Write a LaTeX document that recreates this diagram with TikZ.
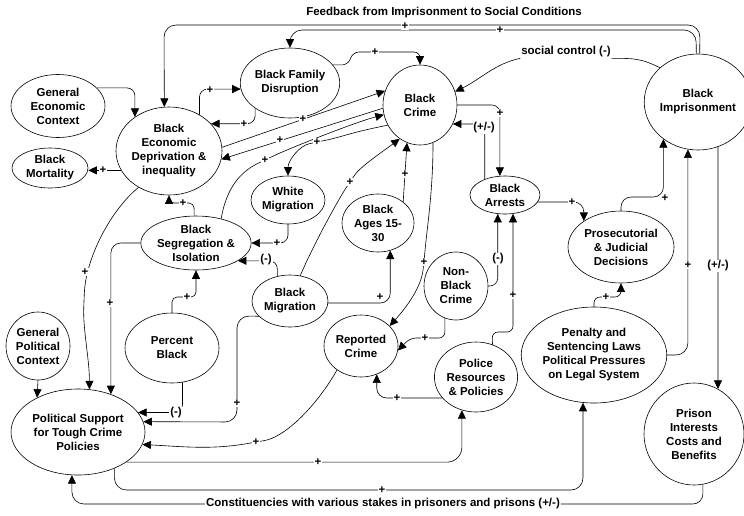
\documentclass[tikz,border=0pt]{standalone}
\usepackage{fontspec}
\setmainfont{Liberation Sans}
\usetikzlibrary{shapes.geometric,arrows.meta}
\begin{document}
\begin{tikzpicture}[x=1pt,y=-1pt,
  every node/.style={font=\fontsize{11.5}{14}\selectfont\bfseries, align=center},
  ell/.style={ellipse, draw, line width=0.6pt, inner sep=0pt},
  sz/.style 2 args={minimum width=#1pt, minimum height=#2pt},
  conn/.style={line width=0.6pt, rounded corners=8pt},
  arw/.style={conn, -{Triangle[length=8.5pt,width=8pt]}},
  lbl/.style={fill=white, inner sep=0.8pt},
]
\useasboundingbox[fill=white] (0,0) rectangle (744,515);

% nodes
\node[ell, sz={94}{63}] (gec) at (58,106) {General\\Economic\\Context};
\node[ell, sz={106}{88}] (bed) at (169,151) {Black\\Economic\\Deprivation \&\\inequality};
\node[ell, sz={76}{40}] (bmort) at (50,168) {Black\\Mortality};
\node[ell, sz={96}{70}] (bfd) at (290,83) {Black Family\\Disruption};
\node[ell, sz={74}{80}] (bc) at (420,105) {Black\\Crime};
\node[ell, sz={106}{96}] (bi) at (698,102) {Black\\Imprisonment};
\node[ell, sz={74}{48}] (wm) at (288,200) {White\\Migration};
\node[ell, sz={106}{54}] (seg) at (196,243) {Black\\Segregation \&\\Isolation};
\node[ell, sz={72}{58}] (ages) at (378,223) {Black\\Ages 15-\\30};
\node[ell, sz={70}{38}] (barr) at (505,195) {Black\\Arrests};
\node[ell, sz={106}{72}] (pros) at (621,247) {Prosecutorial\\\& Judicial\\Decisions};
\node[ell, sz={76}{52}] (bmig) at (290,301) {Black\\Migration};
\node[ell, sz={64}{68}] (nbc) at (456,286) {Non-\\Black\\Crime};
\node[ell, sz={94}{70}] (pb) at (172,348) {Percent\\Black};
\node[ell, sz={64}{68}] (gpc) at (38,346) {General\\Political\\Context};
\node[ell, sz={74}{62}] (rc) at (361,346) {Reported\\Crime};
\node[ell, sz={82}{70}] (pol) at (476,377) {Police\\Resources\\\& Policies};
\node[ell, sz={138}{96}] (pen) at (594,355) {Penalty and\\Sentencing Laws\\Political Pressures\\on Legal System};
\node[ell, sz={100}{102}] (pi) at (694,434) {Prison\\Interests\\Costs and\\Benefits};
\node[ell, sz={134}{86}] (ps) at (78,432) {Political Support\\for Tough Crime\\Policies};

\node (fb) at (444,13) {Feedback from Imprisonment to Social Conditions};
\node[lbl] (sc) at (566,52) {social control (-)};
\node[lbl] (cons) at (383,504) {Constituencies with various stakes in prisoners and prisons (+/-)};

% connectors
\draw[arw, rounded corners=12pt] (bi.88) -- (700,25) -- (164,25) -- (bed.96);
\draw[arw, rounded corners=12pt] (bi.92) -- (696,30) -- (290,30) -- (bfd.north);
\draw[arw, rounded corners=6pt] (bfd.23) -- (348,65) -- (353,52) -| (bc.north);
\draw[arw] (gec.25) -| (bed.135);
\draw[arw] (bed.50) |- (bfd.187);
\draw[arw] (bfd.216) |- (bed.33);
\draw[arw] (bed.202) -- (bed.202 -| bmort.east);
\draw[arw] (bed.4) -- (bc.158);
\draw[arw] (bc.185) -- (bed.351);
\draw[arw] (seg.44) .. controls +(5,-30) and +(-25,12) .. (265,160) .. controls +(25,-12) and +(-30,8) .. (bc.195);
\draw[arw] (bc.212) .. controls +(-40,8) and +(25,-5) .. (317,142) .. controls +(-18,4) and +(0,-15) .. (wm.north);
\draw[arw] (bmig.68) .. controls +(15,-35) and +(-10,15) .. (350,182) .. controls +(10,-15) and +(-20,15) .. (bc.239);
\draw[arw] (ages.40) -- (bc.251);
\draw[arw] (bc.289) .. controls +(0,50) and +(3,-35) .. (424,262) .. controls +(-3,25) and +(18,-20) .. (rc.35);
\draw[arw] (bc.east) -| (barr.105);
\draw[arw] (barr.142) |- (bc.330);
\draw[conn] (bi.138) .. controls +(-20,-10) and +(20,0) .. (sc.south east);
\draw[arw] (sc.south west) .. controls +(-25,5) and +(25,-12) .. (bc.21);
\draw[arw, rounded corners=5pt] (seg.94) -- (194,203) -| (bed.south);
\draw[arw] (wm.south) |- (seg.east);
\draw[arw] (bmig.117) |- (seg.337);
\draw[arw, rounded corners=5pt] (pb.north) -- (172,297) -| (seg.south);
\draw[arw, rounded corners=10pt] (bmig.-3) -| (ages.294);
\draw[arw, rounded corners=12pt] (bmig.206) -- (237,316) -- (237,422) -- (ps.9);
\draw[arw] (pb.287) |- (ps.18);
\draw[arw] (bed.230) .. controls +(-30,25) and +(2,-40) .. (84,300) .. controls +(-1,30) and +(0,-30) .. (ps.75);
\draw[arw, rounded corners=10pt] (seg.west) -| (ps.49);
\draw[arw] (gpc.south) -- (ps.140);
\draw[arw] (rc.225) .. controls +(-20,35) and +(30,-5) .. (256,442) .. controls +(-45,8) and +(40,2) .. (ps.349);
\draw[arw, rounded corners=15pt] (ps.328) -| (pol.247);
\draw[arw, rounded corners=12pt] (ps.315) |- (400,490) -| (pen.257);
\draw[conn, rounded corners=10pt] (pi.280) |- (cons.east);
\draw[arw, rounded corners=12pt] (cons.west) -| (ps.262);
\draw[arw, rounded corners=10pt] (pol.212) -| (rc.299);
\draw[arw, rounded corners=6pt] (nbc.251) |- (410,338) -- (rc.353);
\draw[arw, rounded corners=8pt] (nbc.east) -| (barr.249);
\draw[arw, rounded corners=6pt] (pol.63) -- (492,332) -| (barr.293);
\draw[arw, rounded corners=10pt] (barr.348) -| (pros.145);
\draw[arw, rounded corners=10pt] (pros.north) -- (621,197) -| (bi.227);
\draw[arw, rounded corners=6pt] (pen.north) -- (594,297) -| (pros.south);
\draw[arw, rounded corners=12pt] (pen.east) -| (bi.258);
\draw[arw] (bi.294) -- (pi.62);

% labels
\node[lbl] (l1) at (405,26) {+};
\node[lbl] (l2) at (500,30) {+};
\node[lbl] (l3) at (375,52) {+};
\node[lbl] (l4) at (210,90) {+};
\node[lbl] (l5) at (244,124) {+};
\node[lbl] (l6) at (103,170) {+};
\node[lbl] (l7) at (303,119) {+};
\node[lbl] (l8) at (280,140) {+};
\node[lbl] (l9) at (265,160) {+};
\node[lbl] (l10) at (317,142) {+};
\node[lbl] (l11) at (350,182) {+};
\node[lbl] (l12) at (405,174) {+};
\node[lbl] (l13) at (424,262) {+};
\node[lbl] (l14) at (500,113) {+};
\node[lbl] (l15) at (484,128) {(+/-)};
\node[lbl] (l16) at (183,203) {+};
\node[lbl] (l17) at (277,243) {+};
\node[lbl] (l18) at (266,260) {(-)};
\node[lbl] (l19) at (187,297) {+};
\node[lbl] (l20) at (380,297) {+};
\node[lbl] (l21) at (237,403) {+};
\node[lbl] (l22) at (176,413) {(-)};
\node[lbl] (l23) at (85,272) {+};
\node[lbl] (l24) at (110,303) {+};
\node[lbl] (l25) at (256,442) {+};
\node[lbl] (l26) at (318,462) {+};
\node[lbl] (l27) at (382,490) {+};
\node[lbl] (l28) at (397,398) {+};
\node[lbl] (l29) at (425,338) {+};
\node[lbl] (l30) at (498,259) {(-)};
\node[lbl] (l31) at (513,295) {+};
\node[lbl] (l32) at (572,202) {+};
\node[lbl] (l33) at (665,198) {+};
\node[lbl] (l34) at (606,297) {+};
\node[lbl] (l35) at (688,265) {+};
\node[lbl] (l36) at (718,266) {(+/-)};
\end{tikzpicture}
\end{document}
